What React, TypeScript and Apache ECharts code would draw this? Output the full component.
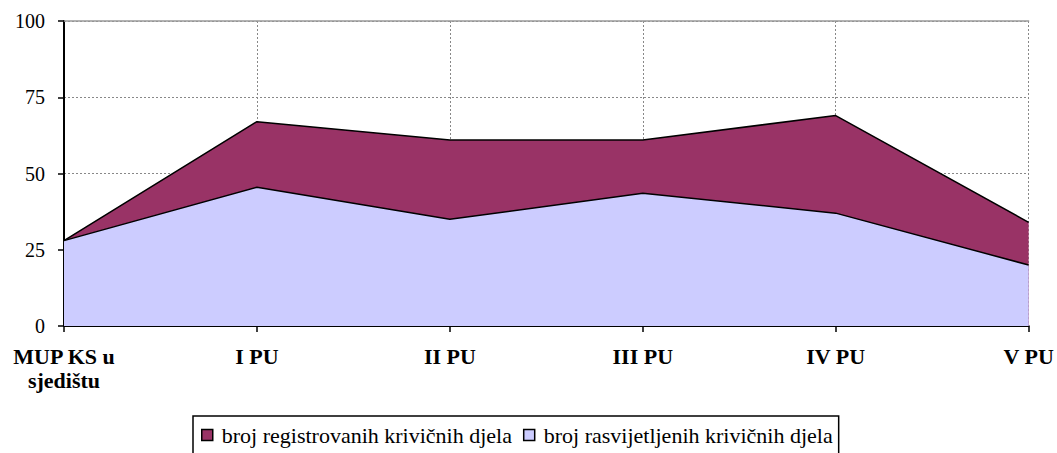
import React, { useEffect, useRef } from "react";
import * as echarts from "echarts";

const categories = ["MUP KS u\nsjedištu", "I PU", "II PU", "III PU", "IV PU", "V PU"];
const registered = [28, 67, 61, 61, 69, 34];
const solved = [28, 45.5, 35, 43.5, 37, 20];
const yTicks = [0, 25, 50, 75, 100];
const seriesNames = ["broj registrovanih krivičnih djela", "broj rasvijetljenih krivičnih djela"];

const FONT = "Liberation Serif";

export default function App() {
  const ref = useRef<HTMLDivElement>(null);
  useEffect(() => {
    document.body.style.margin = "0";
    const chart = echarts.init(ref.current!, null, { renderer: "svg" });
    chart.setOption({
      animation: false,
      textStyle: { fontFamily: FONT },
      grid: { left: 64, right: 28, top: 21, bottom: 127 },
      legend: {
        left: 193,
        top: 416,
        data: seriesNames,
        icon: "rect",
        itemWidth: 11,
        itemHeight: 11,
        itemGap: 11,
        borderColor: "#000",
        borderWidth: 1.5,
        borderRadius: 0,
        padding: [8, 6, 8, 8],
        itemStyle: { borderColor: "#000", borderWidth: 1.5 },
        textStyle: { fontFamily: FONT, fontSize: 22, color: "#000", padding: [0, 0, 0, 4] },
      },
      xAxis: [
        {
          type: "category",
          data: categories,
          boundaryGap: false,
          axisLine: { lineStyle: { color: "#000", width: 2 } },
          axisTick: { show: true, length: 6, lineStyle: { color: "#000", width: 1.5 } },
          axisLabel: {
            fontFamily: FONT,
            fontSize: 22,
            fontWeight: "bold",
            color: "#000",
            margin: 18,
            lineHeight: 24,
            interval: 0,
          },
          splitLine: { show: true, lineStyle: { color: "#888", type: [2, 2], width: 1 } },
        },
        {
          type: "category",
          position: "top",
          data: categories,
          boundaryGap: false,
          axisLine: { lineStyle: { color: "#999", width: 1.5 } },
          axisTick: { show: false },
          axisLabel: { show: false },
          splitLine: { show: false },
        },
      ],
      yAxis: {
        type: "value",
        min: yTicks[0],
        max: yTicks[yTicks.length - 1],
        interval: 25,
        axisLine: { show: true, lineStyle: { color: "#000", width: 2 } },
        axisTick: { show: true, length: 6, lineStyle: { color: "#000", width: 1.5 } },
        axisLabel: { fontFamily: FONT, fontSize: 20, color: "#000", margin: 19 },
        splitLine: { show: true, lineStyle: { color: "#888", type: [2, 2], width: 1 } },
      },
      series: [
        {
          name: seriesNames[0],
          type: "line",
          data: registered,
          symbol: "none",
          lineStyle: { color: "#000", width: 1.5 },
          itemStyle: { color: "#993366" },
          areaStyle: { color: "#993366", opacity: 1 },
          z: 2,
        },
        {
          name: seriesNames[1],
          type: "line",
          data: solved,
          symbol: "none",
          lineStyle: { color: "#000", width: 1.5 },
          itemStyle: { color: "#CCCCFF" },
          areaStyle: { color: "#CCCCFF", opacity: 1 },
          z: 3,
        },
      ],
    });
    return () => chart.dispose();
  }, []);
  return <div ref={ref} style={{ width: 1057, height: 453 }} />;
}
